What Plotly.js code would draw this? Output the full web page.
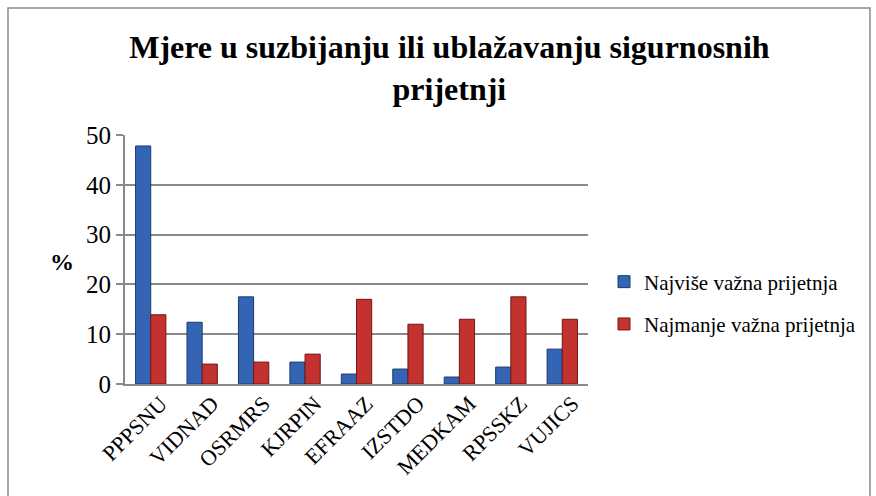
<!DOCTYPE html>
<html><head><meta charset="utf-8">
<script src="https://cdn.plot.ly/plotly-3.0.1.min.js"></script>
<style>body{margin:0;background:#fff}#c{width:876px;height:496px}</style>
</head><body><div id="c"></div>
<script>
const categories = ['PPPSNU','VIDNAD','OSRMRS','KJRPIN','EFRAAZ','IZSTDO','MEDKAM','RPSSKZ','VUJICS'];
const najvise = [47.8, 12.4, 17.5, 4.4, 2.0, 3.0, 1.4, 3.4, 7.0];
const najmanje = [13.9, 4.0, 4.4, 6.0, 17.0, 12.0, 13.0, 17.5, 13.0];
const seriesNames = ['Najviše važna prijetnja', 'Najmanje važna prijetnja'];
const yTicks = [0, 10, 20, 30, 40, 50];

const serif = 'Liberation Serif, Times New Roman, serif';
const traces = [
  {type:'bar', x:categories, y:najvise, name:seriesNames[0], legendgroup:'a',
   marker:{color:'#3465b5', line:{color:'#1d3a70', width:1}}},
  {type:'bar', x:categories, y:najmanje, name:seriesNames[1], legendgroup:'b',
   marker:{color:'#c3322f', line:{color:'#701615', width:1}}}
];
const layout = {
  width:876, height:496,
  margin:{l:125, r:288, t:135, b:112},
  paper_bgcolor:'#fff', plot_bgcolor:'#fff',
  font:{family:serif, color:'#000'},
  title:{text:'<b>Mjere u suzbijanju ili ublažavanju sigurnosnih<br>prijetnji</b>',
         font:{family:serif, size:32, color:'#000'},
         x:0.513, xanchor:'center', xref:'container', y:1-58/496, yanchor:'top', yref:'container'},
  barmode:'group', bargap:0.41, bargroupgap:0,
  xaxis:{type:'category', tickangle:-45, tickfont:{family:serif, size:22},
         showline:true, linecolor:'#8a8a8a', linewidth:2, ticks:'', showgrid:false,
         ticklabelshift:10, ticklabelstandoff:-4},
  yaxis:{range:[0,50], tickvals:yTicks, tickfont:{family:serif, size:25},
         showline:true, linecolor:'#8a8a8a', linewidth:2, ticks:'outside', ticklen:7, tickcolor:'#8a8a8a', tickwidth:2,
         gridcolor:'#8a8a8a', gridwidth:2, zeroline:false},
  annotations:[{text:'<b>%</b>', xref:'paper', yref:'paper', x:(62-125)/463, y:(384-262)/249,
                xanchor:'center', yanchor:'middle', showarrow:false, font:{family:serif, size:24}}],
  legend:{x:(604-125)/463, xanchor:'left', y:(384-303)/249, yanchor:'middle', font:{family:serif, size:21},
          tracegroupgap:12, itemwidth:30},
  showlegend:true,
  shapes:[{type:'rect', xref:'paper', yref:'paper', x0:-0.2527, x1:1.609, y0:-0.5, y1:1.51,
           line:{color:'#8a8a8a', width:1.5}, fillcolor:'rgba(0,0,0,0)', layer:'below'}]
};
Plotly.newPlot('c', traces, layout, {displayModeBar:false, staticPlot:true});
</script></body></html>
